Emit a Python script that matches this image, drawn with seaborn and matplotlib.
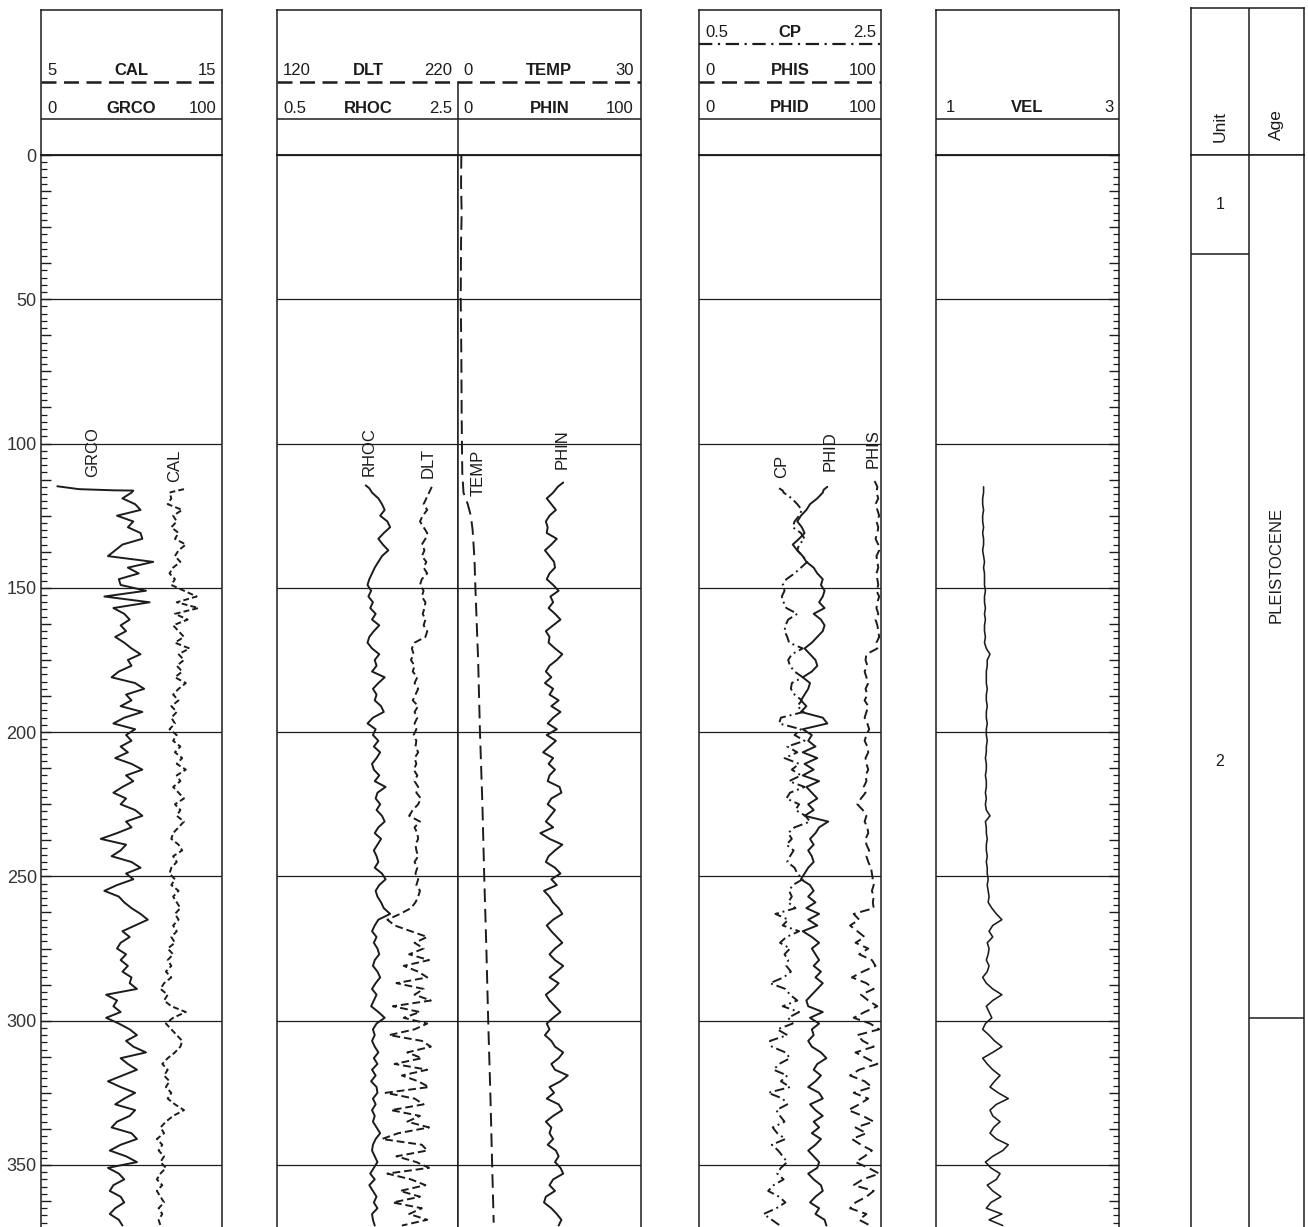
import numpy as np
import matplotlib
matplotlib.use("Agg")
import matplotlib.pyplot as plt
import seaborn as sns
from matplotlib.ticker import FixedLocator, FuncFormatter

sns.set_style("white")
plt.rcParams['font.family'] = ['Liberation Sans', 'DejaVu Sans']

# ---------------- data (depth in m) ----------------
DEPTH = [117, 119, 121, 123, 125, 127, 129, 131, 133, 135, 137, 139, 141, 143, 145, 147,
         149, 151, 153, 155, 157, 159, 161, 163, 165, 167, 169, 171, 173, 175, 177, 179,
         181, 183, 185, 187, 189, 191, 193, 195, 197, 199, 201, 203, 205, 207, 209, 211,
         213, 215, 217, 219, 221, 223, 225, 227, 229, 231, 233, 235, 237, 239, 241, 243,
         245, 247, 249, 251, 253, 255, 257, 259, 261, 263, 265, 267, 269, 271, 273, 275,
         277, 279, 281, 283, 285, 287, 289, 291, 293, 295, 297, 299, 301, 303, 305, 307,
         309, 311, 313, 315, 317, 319, 321, 323, 325, 327, 329, 331, 333, 335, 337, 339,
         341, 343, 345, 347, 349, 351, 353, 355, 357, 359, 361, 363, 365, 367, 369, 371]

GRCO_HEAD_D = [114.8, 115.8, 116.2, 116.3]
GRCO_HEAD = [9, 21, 40, 51]
GRCO = [50, 45, 52, 55, 42, 51, 48, 55, 56, 45, 41, 37, 62, 48, 54, 43,
        44, 58, 35, 60, 40, 46, 49, 44, 47, 41, 46, 50, 55, 48, 50, 43,
        39, 52, 57, 47, 50, 44, 56, 46, 40, 52, 47, 50, 44, 48, 41, 50,
        56, 47, 51, 45, 40, 47, 44, 52, 56, 47, 50, 42, 33, 47, 44, 39,
        50, 55, 47, 51, 42, 35, 43, 46, 50, 55, 59, 52, 45, 49, 44, 42,
        47, 44, 48, 45, 50, 49, 53, 36, 42, 40, 44, 36, 43, 49, 53, 47,
        51, 58, 44, 48, 53, 45, 37, 44, 52, 46, 41, 52, 49, 42, 39, 50,
        53, 44, 38, 47, 53, 37, 43, 46, 40, 38, 44, 46, 41, 38, 43, 45]

CAL_HEAD_D = [115.8, 116.5]
CAL_HEAD = [12.9, 12.4]
CAL = [12.1, 12.2, 12.0, 12.8, 12.3, 12.5, 12.2, 12.6, 12.4, 13.0, 12.6, 12.4, 12.7, 12.3, 12.1, 12.4,
       12.2, 12.9, 13.6, 12.5, 13.7, 12.4, 13.1, 12.3, 12.6, 12.9, 12.4, 13.2, 12.6, 12.9, 12.5, 12.8,
       12.4, 13.0, 12.6, 12.3, 12.6, 12.2, 12.5, 12.2, 12.4, 12.1, 12.5, 12.3, 12.7, 12.4, 12.8, 12.5,
       13.0, 12.5, 12.7, 12.3, 12.6, 12.9, 12.4, 12.7, 12.5, 12.9, 12.6, 12.3, 12.2, 12.6, 12.8, 12.3,
       12.5, 12.2, 12.1, 12.4, 12.2, 12.6, 12.3, 12.5, 12.7, 12.4, 12.6, 12.3, 12.5, 12.2, 12.4, 12.0,
       12.3, 12.0, 12.2, 11.9, 12.2, 11.8, 11.6, 12.0, 11.8, 12.2, 13.0, 12.3, 11.9, 12.2, 12.5, 12.8,
       12.7, 12.4, 12.0, 11.7, 12.0, 11.8, 12.1, 11.9, 12.2, 12.0, 12.4, 12.9, 12.3, 11.9, 11.6, 11.8,
       11.4, 11.7, 11.5, 11.8, 11.6, 11.9, 11.6, 11.4, 11.7, 11.4, 11.6, 11.8, 11.5, 11.7, 11.5, 11.6]

RHOC_HEAD_D = [114.5, 115.5]
RHOC_HEAD = [1.48, 1.52]
RHOC = [1.55, 1.62, 1.66, 1.69, 1.64, 1.72, 1.75, 1.68, 1.62, 1.67, 1.73, 1.66, 1.62, 1.58, 1.55, 1.52,
        1.50, 1.54, 1.51, 1.56, 1.53, 1.59, 1.55, 1.63, 1.57, 1.52, 1.50, 1.55, 1.63, 1.58, 1.60, 1.55,
        1.69, 1.62, 1.56, 1.60, 1.58, 1.65, 1.68, 1.56, 1.50, 1.59, 1.56, 1.62, 1.57, 1.64, 1.60, 1.55,
        1.57, 1.63, 1.58, 1.70, 1.61, 1.59, 1.64, 1.60, 1.66, 1.69, 1.62, 1.58, 1.65, 1.61, 1.57, 1.60,
        1.62, 1.58, 1.66, 1.70, 1.63, 1.59, 1.61, 1.65, 1.68, 1.75, 1.62, 1.58, 1.55, 1.60, 1.57, 1.61,
        1.63, 1.58, 1.56, 1.61, 1.64, 1.59, 1.55, 1.60, 1.57, 1.54, 1.62, 1.69, 1.60, 1.56, 1.58, 1.55,
        1.58, 1.62, 1.57, 1.61, 1.55, 1.59, 1.54, 1.60, 1.61, 1.56, 1.59, 1.55, 1.58, 1.56, 1.60, 1.64,
        1.59, 1.56, 1.55, 1.58, 1.61, 1.57, 1.53, 1.58, 1.52, 1.56, 1.60, 1.57, 1.61, 1.55, 1.56, 1.58]

DLT_HEAD_D = [115.0, 116.0]
DLT_HEAD = [205.5, 204.8]
DLT = [204, 202.5, 201, 203, 200.5, 199, 201, 203, 202, 200, 201.5, 200, 202.5, 201, 203, 200,
       199, 201, 200, 202, 201.5, 200.5, 202, 201, 203, 202, 196, 194.5, 195.5, 194, 196, 195,
       197.5, 196, 198, 196.5, 195, 198, 196, 197.5, 196, 197, 195.5, 197, 196.5, 198, 196, 197,
       195.5, 197.5, 196, 198, 197, 199.5, 198, 195, 193, 199, 196, 197.5, 198, 196.5, 197, 198,
       196, 197.5, 196.5, 198, 197, 199, 198, 196.5, 194, 188, 181, 185, 194, 203, 196, 201,
       193, 204, 190, 198, 203, 186, 201, 196, 205, 184, 199, 190, 203, 196, 182, 200,
       205, 192, 200, 185, 203, 189, 198, 204, 180, 196, 201, 183, 199, 192, 204, 187,
       178, 200, 203, 186, 197, 204, 181, 194, 202, 188, 199, 184, 200, 193, 203, 189]

TEMP_D = [0, 10, 20, 30, 50, 70, 90, 100, 110, 117, 121, 125, 130, 140, 150,
          175, 200, 225, 250, 275, 300, 325, 350, 370]
TEMP = [0.55, 0.5, 0.6, 0.5, 0.45, 0.55, 0.6, 0.65, 0.7, 0.9, 1.6, 2.1, 2.4, 2.7, 2.85,
        3.3, 3.6, 4.0, 4.3, 4.65, 4.95, 5.3, 5.6, 5.85]

PHIN_HEAD_D = [113.5, 115.0]
PHIN_HEAD = [57.5, 54.5]
PHIN = [52, 48.5, 51, 53.5, 50, 48, 49, 48.5, 54, 51, 47.5, 50, 52.5, 53, 50, 48.5,
        52, 55, 50.5, 52, 49.5, 53, 56, 52, 48, 50, 49.5, 53, 57, 54, 50, 48,
        51, 47.5, 52, 50, 55, 51, 56, 52, 49, 54, 48.5, 53.5, 50, 46.5, 52, 49.5,
        53, 50, 49, 55.5, 56.5, 51, 49, 53, 50.5, 48, 52, 45, 50, 57, 53, 49.5,
        48, 53, 56, 51, 54, 47, 50, 52, 55, 57, 52, 48.5, 51, 54, 57, 53,
        50, 53, 57.5, 54, 50, 55, 52, 48, 50, 53, 56, 52, 48.5, 50, 47.5, 51,
        53, 57.5, 55, 51, 53, 60, 56, 50, 52.5, 48.5, 55, 57, 52, 48, 51, 50,
        52, 49, 53.5, 55, 53, 56, 57.5, 52, 50, 53, 48, 47, 51, 54, 56.5, 55]

CP_HEAD_D = [115.5, 116.3]
CP_HEAD = [1.38, 1.42]
CP = [1.43, 1.52, 1.58, 1.63, 1.60, 1.55, 1.53, 1.62, 1.66, 1.60, 1.58, 1.64, 1.69, 1.62, 1.55, 1.46,
      1.42, 1.44, 1.41, 1.43, 1.46, 1.58, 1.48, 1.45, 1.44, 1.47, 1.49, 1.64, 1.52, 1.48, 1.50, 1.55,
      1.64, 1.52, 1.51, 1.55, 1.63, 1.58, 1.65, 1.40, 1.38, 1.62, 1.55, 1.66, 1.47, 1.58, 1.44, 1.60,
      1.52, 1.62, 1.49, 1.66, 1.50, 1.46, 1.60, 1.56, 1.67, 1.72, 1.55, 1.48, 1.52, 1.46, 1.54, 1.50,
      1.47, 1.55, 1.58, 1.64, 1.53, 1.49, 1.52, 1.48, 1.56, 1.34, 1.48, 1.42, 1.60, 1.46, 1.39, 1.50,
      1.44, 1.48, 1.46, 1.51, 1.43, 1.28, 1.45, 1.50, 1.58, 1.42, 1.60, 1.48, 1.53, 1.36, 1.47, 1.28,
      1.30, 1.45, 1.50, 1.38, 1.32, 1.47, 1.40, 1.50, 1.26, 1.42, 1.47, 1.35, 1.39, 1.44, 1.31, 1.36,
      1.45, 1.30, 1.37, 1.42, 1.47, 1.40, 1.36, 1.43, 1.32, 1.26, 1.38, 1.45, 1.35, 1.21, 1.30, 1.39]

PHID_HEAD_D = [115.0, 116.0]
PHID_HEAD = [70.5, 68.5]
PHID = [68, 65, 61, 59, 56, 54, 56.5, 58, 55, 51.5, 54, 57, 59, 63, 65, 68,
        67, 69, 68, 66, 69, 63, 67, 69, 68, 65, 62, 58, 61, 64, 65, 62,
        57, 61, 60, 58, 56, 59, 56, 68, 70.5, 57, 62, 60, 64, 57, 65, 58,
        63, 57, 66, 59, 62, 65, 60, 63, 58, 71, 66, 64, 61, 63, 60, 62,
        63, 60, 58, 56, 61, 63, 60, 64, 59, 66, 60, 65, 57, 62, 66, 62,
        64, 66, 63, 67, 64, 68, 65, 62, 59, 60, 68, 61, 66, 62, 63, 60,
        62, 67, 70, 65, 63, 67, 64, 60, 66, 68, 61, 64, 68, 63, 66, 62,
        67, 64, 60, 63, 66, 65, 60, 63, 67, 68, 64, 61, 66, 64, 69, 70]

PHIS_HEAD_D = [113.0, 115.0]
PHIS_HEAD = [96.5, 98]
PHIS = [97.5, 98.5, 97, 98, 99, 97.5, 98.5, 98, 97, 98.5, 99, 97.5, 98, 98.5, 97.5, 98,
        98.5, 97.5, 99, 98, 97.5, 98.5, 97, 98, 98.5, 99, 97.5, 98, 92, 91.5, 92.5, 91,
        92, 93, 91.5, 92.5, 91, 93, 92, 91, 92.5, 93.5, 92, 91, 92.5, 93, 91.5, 92,
        93, 91.5, 92, 90.5, 91.5, 89, 87, 90, 92, 91, 92.5, 93, 91.5, 92, 93.5, 92,
        93, 94.5, 95, 95.5, 96, 95, 96, 95.5, 96, 85, 88, 83, 87, 91, 86, 93,
        88, 95, 97, 90, 84, 92, 96, 89, 93, 98, 91, 85, 94, 99, 87, 90,
        96, 86, 92, 98, 88, 83, 91, 95, 85, 93, 88, 82, 90, 96, 86, 92,
        84, 89, 95, 91, 86, 93, 99, 90, 85, 96, 92, 86, 83, 92, 88, 94]

VEL_HEAD_D = [115.0]
VEL_HEAD = [1.52]
VEL = [1.52, 1.51, 1.51, 1.52, 1.51, 1.51, 1.52, 1.51, 1.52, 1.52, 1.51, 1.52, 1.53, 1.52, 1.53, 1.53,
       1.53, 1.54, 1.53, 1.53, 1.54, 1.53, 1.54, 1.53, 1.53, 1.54, 1.53, 1.55, 1.59, 1.56, 1.56, 1.55,
       1.55, 1.55, 1.56, 1.55, 1.55, 1.56, 1.55, 1.55, 1.56, 1.55, 1.55, 1.56, 1.55, 1.55, 1.54, 1.55,
       1.55, 1.54, 1.55, 1.55, 1.54, 1.55, 1.54, 1.55, 1.59, 1.54, 1.55, 1.55, 1.56, 1.55, 1.55, 1.56,
       1.55, 1.56, 1.56, 1.57, 1.56, 1.57, 1.58, 1.57, 1.61, 1.66, 1.72, 1.62, 1.58, 1.62, 1.56, 1.58,
       1.57, 1.55, 1.58, 1.56, 1.51, 1.55, 1.62, 1.72, 1.62, 1.55, 1.58, 1.61, 1.54, 1.51, 1.58, 1.64,
       1.72, 1.62, 1.51, 1.56, 1.62, 1.70, 1.64, 1.59, 1.68, 1.79, 1.66, 1.59, 1.62, 1.70, 1.63, 1.59,
       1.66, 1.79, 1.73, 1.62, 1.54, 1.60, 1.70, 1.66, 1.56, 1.62, 1.71, 1.60, 1.55, 1.72, 1.58, 1.73]

UNIT_NAMES = ['1', '2']
UNIT_TOPS = [0, 34.3]
UNIT_BASES = [34.3, 386]
AGE_NAMES = ['PLEISTOCENE']
AGE_TOPS = [0]
AGE_BASES = [299]
AGE_LABEL_DEPTH = [142]

GRID = [0, 50, 100, 150, 200, 250, 300, 350]
DEPTH_LABELS = ['0', '50', '100', '150', '200', '250', '300', '350']

# ---------------- layout ----------------
W, H = 1308, 1227
DEPTH_MAX = 371.5
INK = '#1c1c1c'
CURVE_LW = 1.4
fig = plt.figure(figsize=(W / 100, H / 100), dpi=100)


def box(l, t, r, b):
    return [l / W, 1 - b / H, (r - l) / W, (b - t) / H]


def data_axes(l, r, grid=True):
    ax = fig.add_axes(box(l, 155, r, H))
    ax.set_xlim(0, 1)
    ax.set_ylim(DEPTH_MAX, 0)
    if grid:
        for d in GRID:
            ax.axhline(d, color=INK, lw=0.9, zorder=1)
    ax.spines['bottom'].set_visible(False)
    for s in ['left', 'right', 'top']:
        ax.spines[s].set(color=INK, linewidth=1.1)
    ax.tick_params(axis='x', bottom=False, labelbottom=False, top=False, labeltop=False)
    ax.tick_params(axis='y', left=False, right=False, labelleft=False, labelright=False)
    return ax


def header_axes(l, r, top=10):
    ax = fig.add_axes(box(l, top, r, 155))
    ax.set_xlim(0, 1)
    ax.set_ylim(155, top)
    for s in ax.spines.values():
        s.set(color=INK, linewidth=1.1, visible=True)
    ax.set_xticks([])
    ax.set_yticks([])
    return ax


def head_row(ax, y, lo, name, hi, x0=0.033, x1=0.967, xc=0.5):
    ax.text(x0, y, lo, ha='left', va='baseline', fontsize=12, color=INK)
    ax.text(xc, y, name, ha='center', va='baseline', fontsize=12, color=INK, fontweight='bold')
    ax.text(x1, y, hi, ha='right', va='baseline', fontsize=12, color=INK)


def curve(ax, head_d, head_v, depth, vals, lim, ls, label=None, lpos=None, lw=CURVE_LW):
    c = ax.twiny()
    d = list(head_d) + list(depth)
    v = list(head_v) + list(vals)
    sns.lineplot(x=v, y=d, orient='y', sort=False, estimator=None, ax=c,
                 color=INK, linewidth=lw, linestyle=ls)
    c.set_xlim(*lim)
    c.set_ylim(DEPTH_MAX, 0)
    for s in c.spines.values():
        s.set_visible(False)
    c.tick_params(axis='x', top=False, labeltop=False, bottom=False, labelbottom=False)
    c.set_xlabel('')
    c.set_ylabel('')
    if label:
        c.text(lpos[0], lpos[1], label, rotation=90, ha='center', va='center',
               fontsize=12, color=INK)
    return c


DASH_CAL = (0, (3, 1.6))
DASH_DLT = (0, (4, 2))
DASH_TEMP = (0, (7, 3.5))
DASH_PHIS = (0, (5, 2.5))
DASH_CP = (0, (5, 2, 1, 2))
HEAD_DASH = (0, (6, 3))
HEAD_DASHDOT = (0, (6, 2.5, 1, 2.5))

# ---- track 1 : GRCO / CAL ----
h1 = header_axes(41, 222)
h1.axhline(82, color=INK, lw=1.8, linestyle=HEAD_DASH)
h1.axhline(119, color=INK, lw=1.1)
head_row(h1, 75, '5', 'CAL', '15')
head_row(h1, 113, '0', 'GRCO', '100')

a1 = data_axes(41, 222)
curve(a1, GRCO_HEAD_D, GRCO_HEAD, DEPTH, GRCO, (0, 100), '-', 'GRCO', (28.7, 102.9))
curve(a1, CAL_HEAD_D, CAL_HEAD, DEPTH, CAL, (5, 15), DASH_CAL, 'CAL', (12.4, 107.8))
a1.yaxis.set_major_locator(FixedLocator(list(np.arange(0, 371, 12.5))))
a1.yaxis.set_minor_locator(FixedLocator(list(np.arange(0, 371, 2.5))))
a1.yaxis.set_major_formatter(FuncFormatter(
    lambda v, p: DEPTH_LABELS[GRID.index(int(round(v)))] if abs(v - round(v)) < 1e-6 and int(round(v)) in GRID else ''))
a1.tick_params(axis='y', which='major', left=True, direction='in', length=7.5, width=1.0,
               labelleft=True, labelsize=13, pad=3, colors=INK)
a1.tick_params(axis='y', which='minor', left=True, direction='in', length=4, width=0.9, colors=INK)
for t in a1.get_yticklabels():
    t.set_color('#333333')
a1.set_ylim(DEPTH_MAX, 0)

# ---- track 2 : DLT/RHOC | TEMP/PHIN ----
h2 = header_axes(277, 641)
h2.axhline(82, color=INK, lw=1.8, linestyle=HEAD_DASH)
h2.axhline(119, color=INK, lw=1.1)
h2.plot([0.4973, 0.4973], [82, 155], color=INK, lw=1.1)
head_row(h2, 75, '120', 'DLT', '220', x0=0.017, x1=0.482, xc=0.25)
head_row(h2, 75, '0', 'TEMP', '30', x0=0.511, x1=0.98, xc=0.748)
head_row(h2, 113, '0.5', 'RHOC', '2.5', x0=0.017, x1=0.482, xc=0.25)
head_row(h2, 113, '0', 'PHIN', '100', x0=0.511, x1=0.98, xc=0.748)

a2l = data_axes(277, 458)
curve(a2l, RHOC_HEAD_D, RHOC_HEAD, DEPTH, RHOC, (0.5, 2.5), '-', 'RHOC', (1.52, 102.9))
curve(a2l, DLT_HEAD_D, DLT_HEAD, DEPTH, DLT, (120, 220), DASH_DLT, 'DLT', (203.4, 106.7))
a2r = data_axes(458, 641)
curve(a2r, [], [], TEMP_D, TEMP, (0, 30), DASH_TEMP, 'TEMP', (3.28, 110.2))
curve(a2r, PHIN_HEAD_D, PHIN_HEAD, DEPTH, PHIN, (0, 100), '-', 'PHIN', (56.8, 101.9))

# ---- track 3 : CP / PHIS / PHID ----
h3 = header_axes(699, 881)
h3.axhline(44, color=INK, lw=1.6, linestyle=HEAD_DASHDOT)
h3.axhline(82, color=INK, lw=1.8, linestyle=HEAD_DASH)
h3.axhline(119, color=INK, lw=1.1)
head_row(h3, 37, '0.5', 'CP', '2.5', x0=0.033, x1=0.975)
head_row(h3, 75, '0', 'PHIS', '100', x0=0.033, x1=0.975)
head_row(h3, 112, '0', 'PHID', '100', x0=0.033, x1=0.975)

a3 = data_axes(699, 881)
curve(a3, CP_HEAD_D, CP_HEAD, DEPTH, CP, (0.5, 2.5), DASH_CP, 'CP', (1.41, 108))
curve(a3, PHID_HEAD_D, PHID_HEAD, DEPTH, PHID, (0, 100), '-', 'PHID', (72, 102.6))
curve(a3, PHIS_HEAD_D, PHIS_HEAD, DEPTH, PHIS, (0, 100), DASH_PHIS, 'PHIS', (95.6, 101.9))

# ---- track 4 : VEL ----
h4 = header_axes(936, 1119)
h4.axhline(119, color=INK, lw=1.1)
head_row(h4, 112, '1', 'VEL', '3', x0=0.055, x1=0.968)

a4 = data_axes(936, 1119)
curve(a4, VEL_HEAD_D, VEL_HEAD, DEPTH, VEL, (1, 3), '-', lw=1.15)
a4.yaxis.set_major_locator(FixedLocator(list(np.arange(0, 371, 12.5))))
a4.yaxis.set_minor_locator(FixedLocator(list(np.arange(0, 371, 2.5))))
a4.tick_params(axis='y', which='major', right=True, direction='in', length=7.5, width=1.0,
               labelright=False, labelleft=False, colors=INK)
a4.tick_params(axis='y', which='minor', right=True, direction='in', length=4, width=0.9, colors=INK)
a4.set_ylim(DEPTH_MAX, 0)

# ---- track 5 : Unit / Age ----
SPLIT = (1249 - 1191) / (1304 - 1191)
h5 = header_axes(1191, 1304, top=8)
h5.axvline(SPLIT, color=INK, lw=1.1)
h5.text(SPLIT / 2, 126, 'Unit', rotation=90, ha='center', va='center', fontsize=12.5, color=INK)
h5.text((1 + SPLIT) / 2, 125, 'Age', rotation=90, ha='center', va='center', fontsize=12.5, color=INK)

a5 = data_axes(1191, 1304, grid=False)
a5.axvline(SPLIT, color=INK, lw=1.1)
for name, top, base in zip(UNIT_NAMES, UNIT_TOPS, UNIT_BASES):
    a5.hlines([base], 0, SPLIT, color=INK, lw=1.1)
    a5.text(SPLIT / 2, (top + base) / 2, name, ha='center', va='center', fontsize=11.5, color=INK)
for name, base, ld in zip(AGE_NAMES, AGE_BASES, AGE_LABEL_DEPTH):
    a5.hlines([base], SPLIT, 1, color=INK, lw=1.1)
    a5.text((1 + SPLIT) / 2, ld, name, rotation=90, ha='center', va='center',
            fontsize=12, color=INK)
a5.set_ylim(DEPTH_MAX, 0)

fig.savefig('out.png', dpi=100, facecolor='white')
